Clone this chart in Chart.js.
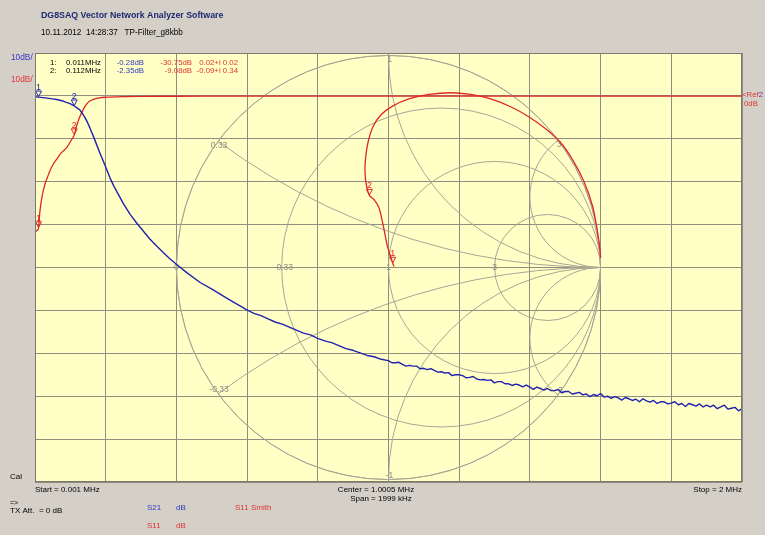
<!DOCTYPE html>
<html>
<head>
<meta charset="utf-8">
<title>TP-Filter_g8kbb</title>
<script src="https://cdn.jsdelivr.net/npm/chart.js@4.4.1/dist/chart.umd.min.js"></script>
<style>
  html, body { margin: 0; padding: 0; background: #d4d0c8; }
  #wrap { position: relative; width: 765px; height: 535px; }
</style>
</head>
<body>
<div id="wrap"><canvas id="vna" width="765" height="535"></canvas></div>
<script>
// Sweep settings (MHz) and dB scale
const xStart = 0.001;
const xStop = 2;
const dbTop = 10;
const dbBottom = -90;

// S21 transmission, dB
const s21Freq = [
  0.001, 0.011, 0.03, 0.05, 0.062, 0.08, 0.1, 0.112, 0.12, 0.128, 0.135, 0.142, 0.15, 0.156,
  0.165, 0.175, 0.185, 0.194, 0.204, 0.213, 0.225, 0.237, 0.25, 0.27, 0.29, 0.307, 0.325,
  0.345, 0.365, 0.383, 0.40, 0.43, 0.468, 0.50, 0.55, 0.60,
  0.62, 0.64, 0.66, 0.68, 0.70, 0.72, 0.74, 0.76, 0.78, 0.80, 0.82, 0.84, 0.86, 0.88, 0.90,
  0.92, 0.94, 0.96, 0.98,
  1.00, 1.01, 1.02, 1.03, 1.04, 1.05, 1.06, 1.07, 1.08, 1.09,
  1.10, 1.11, 1.12, 1.13, 1.14, 1.15, 1.16, 1.17, 1.18, 1.19,
  1.20, 1.21, 1.22, 1.23, 1.24, 1.25, 1.26, 1.27, 1.28, 1.29,
  1.30, 1.31, 1.32, 1.33, 1.34, 1.35, 1.36, 1.37, 1.38, 1.39,
  1.40, 1.41, 1.42, 1.43, 1.44, 1.45, 1.46, 1.47, 1.48, 1.49,
  1.50, 1.51, 1.52, 1.53, 1.54, 1.55, 1.56, 1.57, 1.58, 1.59,
  1.60, 1.61, 1.62, 1.63, 1.64, 1.65, 1.66, 1.67, 1.68, 1.69,
  1.70, 1.71, 1.72, 1.73, 1.74, 1.75, 1.76, 1.77, 1.78, 1.79,
  1.80, 1.81, 1.82, 1.83, 1.84, 1.85, 1.86, 1.87, 1.88, 1.89,
  1.90, 1.91, 1.92, 1.93, 1.94, 1.95, 1.96, 1.97, 1.98, 1.99, 2.00
];
const s21Db = [
  -0.2, -0.28, -0.45, -0.7, -0.85, -1.2, -1.8, -2.35, -2.8, -3.3, -4.1, -5.0, -6.3, -7.4,
  -9.2, -11.3, -13.4, -15.2, -17.2, -19.1, -21.2, -23.0, -25.0, -27.6, -29.8, -31.5, -33.3,
  -35.0, -36.6, -38.0, -39.2, -41.2, -43.5, -45.0, -47.5, -49.9,
  -50.7, -51.2, -52.0, -52.7, -53.2, -53.9, -54.6, -55.3, -55.7, -56.5, -57.1, -57.5, -58.2, -58.9, -59.3,
  -59.9, -60.5, -60.8, -61.4,
  -61.7, -62.2, -62.2, -62.1, -62.6, -63.0, -62.8, -63.0, -63.0, -63.6,
  -63.5, -63.8, -63.6, -64.0, -64.4, -64.3, -64.6, -64.5, -65.2, -65.0,
  -65.0, -65.2, -65.7, -65.6, -65.4, -66.0, -66.2, -66.1, -66.3, -66.2,
  -66.9, -66.6, -66.6, -67.1, -67.1, -67.5, -67.2, -67.4, -67.8, -67.4,
  -67.9, -68.4, -67.9, -68.2, -68.6, -68.2, -68.7, -68.7, -68.4, -69.2,
  -68.9, -68.9, -69.5, -69.3, -69.1, -69.7, -69.5, -70.1, -69.6, -69.9,
  -69.4, -70.2, -70.0, -70.5, -70.1, -70.4, -70.9, -70.3, -70.6, -71.0,
  -70.7, -71.3, -70.6, -71.1, -71.4, -71.0, -71.7, -71.3, -71.3, -71.8,
  -71.6, -71.3, -72.0, -71.7, -72.4, -71.7, -72.0, -72.3, -71.8, -72.5,
  -72.1, -72.5, -72.1, -72.9, -72.5, -72.1, -73.0, -72.8, -72.6, -73.4, -72.9
];

// S11 reflection, dB
const s11Freq = [
  0.001, 0.006, 0.011, 0.015, 0.022, 0.029, 0.036, 0.043, 0.052, 0.062, 0.075, 0.091, 0.105,
  0.112, 0.119, 0.126, 0.133, 0.140, 0.147, 0.156, 0.166, 0.18, 0.204, 0.25, 0.3, 0.4, 0.6,
  0.8, 1.0, 1.2, 1.4, 1.6, 1.8, 2.0
];
const s11Db = [
  -31.8, -31.4, -30.75, -26.8, -23.0, -20.6, -19.0, -17.5, -16.0, -14.8, -13.3, -12.0, -10.1,
  -9.08, -6.9, -5.2, -3.9, -2.8, -1.9, -1.2, -0.8, -0.5, -0.3, -0.15, -0.1, -0.08, -0.07,
  -0.06, -0.05, -0.05, -0.05, -0.05, -0.04, -0.04
];

// S11 reflection coefficient (real / imaginary), Smith chart
const smithRe = [
  0.026, 0.02, 0.007, -0.007, -0.019, -0.031, -0.045, -0.068, -0.09, -0.104, -0.111, -0.108,
  -0.096, -0.073, -0.035, 0.021, 0.096, 0.191, 0.294, 0.388, 0.482, 0.576, 0.661, 0.741,
  0.812, 0.871, 0.922, 0.962, 0.984, 0.997, 1.0
];
const smithIm = [
  0.005, 0.02, 0.061, 0.108, 0.169, 0.226, 0.282, 0.32, 0.34, 0.386, 0.452, 0.518,
  0.593, 0.664, 0.72, 0.762, 0.795, 0.816, 0.824, 0.816, 0.795, 0.758, 0.711, 0.654,
  0.588, 0.503, 0.404, 0.29, 0.176, 0.085, 0.045
];

// Markers
const markerNames = ['1', '2'];
const markerFreq = [0.011, 0.112];
const markerS21 = [-0.28, -2.35];
const markerS11 = [-30.75, -9.08];
const markerRe = [0.02, -0.09];
const markerIm = [0.02, 0.34];

// Smith chart grid: constant resistance circles and reactance arcs
const smithR = [0, 0.33, 1, 3];
const smithX = [0.33, 1, 3];

// ---- styling ----
const FONT = '"Liberation Sans", Arial, sans-serif';
const BLUE = '#2222b0';
const RED = '#e02626';
const TXT_BLUE = '#3434c4';
const TXT_RED = '#e23434';
const PLOT_BG = '#ffffc6';
const GRID = '#8e8e7e';
const SMITH_GRID = '#a6a696';
const SMITH_TXT = '#8a8a80';

// chart area: 707 x 429 px, Smith radius = 3 horizontal divisions
const PAD = { left: 35, top: 53, right: 23, bottom: 53 };
const areaW = 765 - PAD.left - PAD.right;
const areaH = 535 - PAD.top - PAD.bottom;
const smithHalfX = 5 / 3;
const smithHalfY = smithHalfX * areaH / areaW;

const xGrid = Array.from({ length: 11 }, (_, i) => xStart + i * (xStop - xStart) / 10);

const fmt2 = v => v.toFixed(2);

function triMarker(ctx, x, y, color, label) {
  ctx.save();
  ctx.strokeStyle = color;
  ctx.lineWidth = 1;
  ctx.beginPath();
  ctx.moveTo(x, y - 0.5);
  ctx.lineTo(x - 3, y - 6);
  ctx.lineTo(x + 3, y - 6);
  ctx.closePath();
  ctx.stroke();
  ctx.fillStyle = color;
  ctx.font = '9px ' + FONT;
  ctx.textAlign = 'center';
  ctx.textBaseline = 'alphabetic';
  ctx.fillText(label, x, y - 7);
  ctx.restore();
}

function txt(ctx, s, x, y, color, font, align) {
  ctx.fillStyle = color;
  ctx.font = font;
  ctx.textAlign = align || 'left';
  ctx.textBaseline = 'middle';
  ctx.fillText(s, x, y);
}

const vnaPlugin = {
  id: 'vnaScreen',
  beforeDraw(chart) {
    const { ctx, chartArea: a } = chart;
    ctx.save();
    ctx.fillStyle = PLOT_BG;
    ctx.fillRect(a.left, a.top, a.right - a.left, a.bottom - a.top);
    ctx.restore();
  },
  beforeDatasetsDraw(chart) {
    const { ctx } = chart;
    const sx = chart.scales.x2, sy = chart.scales.y2;
    const cx = sx.getPixelForValue(0), cy = sy.getPixelForValue(0);
    const R = sx.getPixelForValue(1) - cx;
    ctx.save();
    ctx.strokeStyle = SMITH_GRID;
    ctx.lineWidth = 1;
    ctx.beginPath();
    ctx.arc(cx, cy, R, 0, Math.PI * 2);
    ctx.stroke();
    ctx.beginPath();
    ctx.arc(cx, cy, R + 0.5, 0, Math.PI * 2);
    ctx.clip();
    smithR.forEach(r => {
      const c = r / (1 + r), rad = 1 / (1 + r);
      ctx.beginPath();
      ctx.arc(sx.getPixelForValue(c), cy, rad * R, 0, Math.PI * 2);
      ctx.stroke();
    });
    smithX.forEach(x => {
      [x, -x].forEach(v => {
        ctx.beginPath();
        ctx.arc(sx.getPixelForValue(1), sy.getPixelForValue(1 / v), R / Math.abs(v), 0, Math.PI * 2);
        ctx.stroke();
      });
    });
    ctx.restore();

    // grid labels
    ctx.save();
    const f = '8.5px ' + FONT;
    smithR.forEach(r => {
      const g = (r - 1) / (r + 1);
      const dx = r > 0 && r < 1 ? 3 : 0;
      txt(ctx, String(r), sx.getPixelForValue(g) + dx, cy, SMITH_TXT, f, 'center');
    });
    smithX.forEach(x => {
      const re = (x * x - 1) / (x * x + 1), im = 2 * x / (x * x + 1);
      txt(ctx, String(x), sx.getPixelForValue(re) + 1, sy.getPixelForValue(im) + 4, SMITH_TXT, f, 'center');
      txt(ctx, String(-x), sx.getPixelForValue(re) + 1, sy.getPixelForValue(-im) - 4, SMITH_TXT, f, 'center');
    });
    ctx.restore();
  },
  afterDatasetsDraw(chart) {
    const { ctx } = chart;
    const x = chart.scales.x, y = chart.scales.y;
    const sx = chart.scales.x2, sy = chart.scales.y2;
    markerFreq.forEach((fq, i) => {
      const px = x.getPixelForValue(fq);
      triMarker(ctx, px, y.getPixelForValue(markerS11[i]), RED, markerNames[i]);
      triMarker(ctx, px, y.getPixelForValue(markerS21[i]), BLUE, markerNames[i]);
      triMarker(ctx, sx.getPixelForValue(markerRe[i]), sy.getPixelForValue(markerIm[i]), RED, markerNames[i]);
    });
  },
  afterDraw(chart) {
    const { ctx, chartArea: a } = chart;
    ctx.save();
    // plot frame
    ctx.strokeStyle = '#78786c';
    ctx.lineWidth = 1;
    ctx.strokeRect(a.left + 0.5, a.top + 0.5, a.right - a.left - 1, a.bottom - a.top - 1);

    // header
    txt(ctx, 'DG8SAQ Vector Network Analyzer Software', 41, 16, '#1e2a70', 'bold 8.8px ' + FONT);
    txt(ctx, '10.11.2012  14:28:37   TP-Filter_g8kbb', 41, 33, '#000', '8.2px ' + FONT);

    // scale captions
    txt(ctx, '10dB/', 11, 58, TXT_BLUE, '8.3px ' + FONT);
    txt(ctx, '10dB/', 11, 80, TXT_RED, '8.3px ' + FONT);

    // marker readout
    const tf = '7.8px ' + FONT;
    markerFreq.forEach((fq, i) => {
      const ty = 62.5 + i * 8.7;
      txt(ctx, markerNames[i] + ':', 50, ty, '#000', tf);
      txt(ctx, fq.toFixed(3) + 'MHz', 66, ty, '#000', tf);
      txt(ctx, fmt2(markerS21[i]) + 'dB', 144, ty, TXT_BLUE, tf, 'right');
      txt(ctx, fmt2(markerS11[i]) + 'dB', 192, ty, TXT_RED, tf, 'right');
      txt(ctx, fmt2(markerRe[i]) + '+i ' + fmt2(markerIm[i]), 238, ty, TXT_RED, tf, 'right');
    });

    // reference marker
    const yRef = chart.scales.y.getPixelForValue(0);
    txt(ctx, '<Ref', 742, yRef - 1, TXT_RED, '7.8px ' + FONT);
    ctx.font = '7.8px ' + FONT;
    const wRef = ctx.measureText('<Ref').width;
    txt(ctx, '2', 742 + wRef, yRef - 1, '#7a2aa0', '7.8px ' + FONT);
    txt(ctx, '0dB', 744, yRef + 8, TXT_RED, '7.8px ' + FONT);

    // footer
    const ff = '8px ' + FONT;
    txt(ctx, 'Cal', 10, 477, '#000', ff);
    txt(ctx, 'Start = ' + xStart.toFixed(3) + ' MHz', 35, 490, '#000', ff);
    const center = (xStart + xStop) / 2;
    const spanK = Math.round((xStop - xStart) * 1000);
    txt(ctx, 'Center = ' + center.toFixed(4) + ' MHz', 376, 490, '#000', ff, 'center');
    txt(ctx, 'Span = ' + spanK + ' kHz', 381, 499, '#000', ff, 'center');
    txt(ctx, 'Stop = ' + xStop + ' MHz', 742, 490, '#000', ff, 'right');
    txt(ctx, '=>', 10, 503, '#000', '7px ' + FONT);
    txt(ctx, 'TX Att.  = 0 dB', 10, 511, '#000', ff);
    txt(ctx, 'S21', 147, 508, TXT_BLUE, ff);
    txt(ctx, 'dB', 176, 508, TXT_BLUE, ff);
    txt(ctx, 'S11', 147, 526, TXT_RED, ff);
    txt(ctx, 'dB', 176, 526, TXT_RED, ff);
    txt(ctx, 'S11', 235, 508, TXT_RED, ff);
    txt(ctx, 'Smith', 251, 508, TXT_RED, ff);
    ctx.restore();
  }
};

const toXY = (xs, ys) => xs.map((v, i) => ({ x: v, y: ys[i] }));

new Chart(document.getElementById('vna'), {
  type: 'scatter',
  data: {
    datasets: [
      {
        label: 'S21 dB',
        data: toXY(s21Freq, s21Db),
        showLine: true, borderColor: BLUE, borderWidth: 1.4, pointRadius: 0,
        tension: 0, borderJoinStyle: 'round', xAxisID: 'x', yAxisID: 'y'
      },
      {
        label: 'S11 dB',
        data: toXY(s11Freq, s11Db),
        showLine: true, borderColor: RED, borderWidth: 1.3, pointRadius: 0,
        cubicInterpolationMode: 'monotone', xAxisID: 'x', yAxisID: 'y'
      },
      {
        label: 'S11 Smith',
        data: toXY(smithRe, smithIm),
        showLine: true, borderColor: RED, borderWidth: 1.3, pointRadius: 0,
        tension: 0.35, xAxisID: 'x2', yAxisID: 'y2'
      }
    ]
  },
  options: {
    responsive: false,
    animation: false,
    events: [],
    layout: { padding: PAD },
    plugins: { legend: { display: false }, tooltip: { enabled: false } },
    scales: {
      x: {
        type: 'linear', min: xStart, max: xStop,
        afterBuildTicks: s => { s.ticks = xGrid.map(v => ({ value: v })); },
        ticks: { display: false },
        grid: { color: GRID, lineWidth: 1, drawTicks: false },
        border: { display: false }
      },
      y: {
        type: 'linear', min: dbBottom, max: dbTop,
        ticks: { display: false, stepSize: 10 },
        grid: { color: GRID, lineWidth: 1, drawTicks: false },
        border: { display: false }
      },
      x2: { type: 'linear', display: false, min: -smithHalfX, max: smithHalfX },
      y2: { type: 'linear', display: false, min: -smithHalfY, max: smithHalfY }
    }
  },
  plugins: [vnaPlugin]
});
</script>
</body>
</html>
